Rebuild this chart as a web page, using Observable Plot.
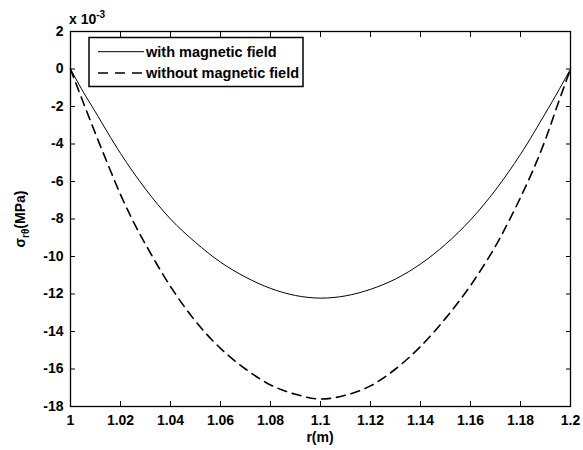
<!DOCTYPE html>
<html>
<head>
<meta charset="utf-8">
<script src="https://cdn.jsdelivr.net/npm/d3@7"></script>
<script src="https://cdn.jsdelivr.net/npm/@observablehq/plot@0.6"></script>
<style>
  html, body { margin: 0; padding: 0; background: #fff; }
  #chart svg { display: block; }
</style>
</head>
<body>
<div id="chart"></div>
<script>
// r (m) sample positions
const rWith = [1.000, 1.005, 1.010, 1.020, 1.030, 1.040, 1.050, 1.060, 1.070, 1.080, 1.090, 1.100, 1.110, 1.120, 1.130, 1.140, 1.150, 1.160, 1.170, 1.180, 1.190, 1.195, 1.200];
// sigma_r-theta (x 10^-3 MPa), with magnetic field
const sWith = [0, -1.2, -2.3, -4.5, -6.4, -8.0, -9.25, -10.3, -11.1, -11.7, -12.08, -12.22, -12.1, -11.75, -11.2, -10.4, -9.35, -8.05, -6.45, -4.55, -2.35, -1.2, 0];

const rWithout = [1.000, 1.005, 1.010, 1.015, 1.020, 1.025, 1.030, 1.040, 1.050, 1.060, 1.070, 1.080, 1.090, 1.100, 1.110, 1.120, 1.130, 1.140, 1.150, 1.160, 1.170, 1.175, 1.180, 1.185, 1.190, 1.195, 1.200];
// sigma_r-theta (x 10^-3 MPa), without magnetic field
const sWithout = [0, -1.75, -3.45, -5.1, -6.7, -8.1, -9.35, -11.6, -13.45, -14.9, -16.0, -16.85, -17.35, -17.6, -17.4, -16.9, -16.0, -14.8, -13.3, -11.55, -9.45, -8.2, -6.85, -5.4, -3.75, -1.85, 0];

const xTicks = [1, 1.02, 1.04, 1.06, 1.08, 1.1, 1.12, 1.14, 1.16, 1.18, 1.2];
const yTicks = [2, 0, -2, -4, -6, -8, -10, -12, -14, -16, -18];
const seriesNames = ["with magnetic field", "without magnetic field"];
const xLabel = "r(m)";
const yExponent = "-3";

const withData = rWith.map((r, i) => ({r, s: sWith[i]}));
const withoutData = rWithout.map((r, i) => ({r, s: sWithout[i]}));

const fmtX = d => String(+d.toFixed(2));
const fmtY = d => String(d);
const font = "'Liberation Sans', Arial, Helvetica, sans-serif";

const chart = Plot.plot({
  width: 583,
  height: 450,
  marginLeft: 70,
  marginRight: 13,
  marginTop: 31,
  marginBottom: 44,
  style: {fontFamily: font, fontSize: "14px", fontWeight: "bold", background: "#fff", color: "#000"},
  x: {domain: [1, 1.2]},
  y: {domain: [-18, 2]},
  marks: [
    Plot.line(withData, {x: "r", y: "s", stroke: "#000", strokeWidth: 1, curve: "catmull-rom"}),
    Plot.line(withoutData, {x: "r", y: "s", stroke: "#000", strokeWidth: 1.6, strokeDasharray: "9,6", curve: "catmull-rom"}),
    Plot.axisX({anchor: "bottom", ticks: xTicks, tickSize: -5, tickPadding: 14, tickFormat: fmtX, label: null, stroke: "#000"}),
    Plot.axisX({anchor: "top", ticks: xTicks, tickSize: -5, tickFormat: () => "", label: null}),
    Plot.axisY({anchor: "left", ticks: yTicks, tickSize: -5, tickPadding: 12, tickFormat: fmtY, label: null}),
    Plot.axisY({anchor: "right", ticks: yTicks, tickSize: -5, tickFormat: () => "", label: null}),
    Plot.frame({stroke: "#000", strokeWidth: 1.3})
  ]
});

document.getElementById("chart").appendChild(chart);

const svg = d3.select(chart);

// exponent label
const ex = svg.append("text").attr("x", 69).attr("y", 24).attr("text-anchor", "start")
  .attr("font-family", font).attr("font-size", 14).attr("font-weight", "bold").attr("fill", "#000");
ex.append("tspan").text("x 10");
ex.append("tspan").attr("font-size", 10).attr("dy", -6).text(yExponent);

// x label
svg.append("text").attr("x", 320).attr("y", 442).attr("text-anchor", "middle")
  .attr("font-family", font).attr("font-size", 14).attr("font-weight", "bold").attr("fill", "#000")
  .text(xLabel);

// y label: sigma_{r theta}(MPa)
const yl = svg.append("text").attr("transform", "translate(25,219) rotate(-90)").attr("text-anchor", "middle")
  .attr("font-family", font).attr("font-size", 14).attr("font-weight", "bold").attr("fill", "#000");
yl.append("tspan").text("σ");
yl.append("tspan").attr("font-size", 10).attr("dy", 4).text("rθ");
yl.append("tspan").attr("dy", -4).text("(MPa)");

// legend
const lg = svg.append("g");
lg.append("rect").attr("x", 89).attr("y", 37.5).attr("width", 214).attr("height", 49)
  .attr("fill", "#fff").attr("stroke", "#000").attr("stroke-width", 1.5);
const rows = [{y: 51.7, dash: null, w: 1}, {y: 73, dash: "10,7", w: 1.6}];
rows.forEach((row, i) => {
  lg.append("line").attr("x1", 98).attr("x2", 144).attr("y1", row.y).attr("y2", row.y)
    .attr("stroke", "#000").attr("stroke-width", row.w).attr("stroke-dasharray", row.dash);
  lg.append("text").attr("x", 146).attr("y", row.y + 5).attr("text-anchor", "start")
    .attr("font-family", font).attr("font-size", 14.5).attr("font-weight", "bold").attr("fill", "#000")
    .text(seriesNames[i]);
});
</script>
</body>
</html>
